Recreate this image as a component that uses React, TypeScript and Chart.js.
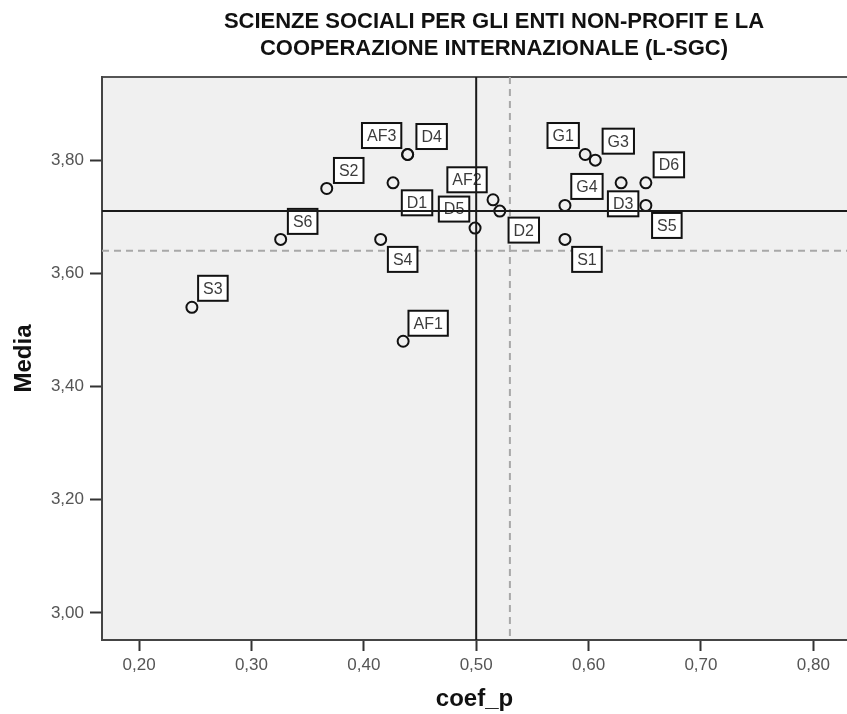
import React, { useEffect, useRef } from "react";
import { Chart, registerables } from "chart.js";

Chart.register(...registerables);

// ---- data ----
const pointLabels = ["S3", "S6", "S2", "D1", "S4", "AF1", "AF3", "D4", "AF2", "D2", "D5", "G1", "G3", "G4", "D3", "D6", "S5", "S1"];
const coefP = [0.247, 0.326, 0.367, 0.426, 0.415, 0.435, 0.439, 0.439, 0.515, 0.521, 0.499, 0.597, 0.606, 0.579, 0.629, 0.651, 0.651, 0.579];
const media = [3.54, 3.66, 3.75, 3.76, 3.66, 3.48, 3.81, 3.81, 3.73, 3.71, 3.68, 3.81, 3.80, 3.72, 3.76, 3.76, 3.72, 3.66];

const xTicks = [0.2, 0.3, 0.4, 0.5, 0.6, 0.7, 0.8];
const yTicks = [3.0, 3.2, 3.4, 3.6, 3.8];

const refSolidX = 0.5;
const refSolidY = 3.71;
const refDashedX = 0.53;
const refDashedY = 3.64;

const titleLines = ["SCIENZE SOCIALI PER GLI ENTI NON-PROFIT E LA", "COOPERAZIONE INTERNAZIONALE (L-SGC)"];
const xTitle = "coef_p";
const yTitle = "Media";

// ---- label placement (offset of label box centre from its point, px) ----
const labelOffsets: [number, number][] = [
  [21, -19], [22, -18], [22, -18], [24, 20], [22, 20], [25, -18], [-26, -19], [24, -18], [-26, -20],
  [24, 19], [-21, -19], [-22, -19], [23, -19], [22, -19], [2, 21], [23, -18], [21, 20], [22, 20],
];

const FONT = '"Liberation Sans", Arial, Helvetica, sans-serif';
const fmt = (v: number) => v.toFixed(2).replace(".", ",");

const framePlugin = {
  id: "frame",
  beforeDraw(chart: any) {
    const { ctx, chartArea } = chart;
    const { left, top, right, bottom } = chartArea;
    ctx.save();
    ctx.fillStyle = "#f0f0f0";
    ctx.fillRect(left, top, right - left, bottom - top);
    ctx.strokeStyle = "#555";
    ctx.lineWidth = 2;
    ctx.beginPath();
    ctx.moveTo(left, top);
    ctx.lineTo(right, top);
    ctx.stroke();
    // title
    ctx.fillStyle = "#111";
    ctx.font = `bold 22px ${FONT}`;
    ctx.textAlign = "center";
    ctx.textBaseline = "middle";
    ctx.fillText(titleLines[0], 494, 22);
    ctx.fillText(titleLines[1], 494, 49);
    ctx.restore();
  },
  beforeDatasetsDraw(chart: any) {
    const { ctx, chartArea, scales } = chart;
    const { left, top, right, bottom } = chartArea;
    const x = scales.x.getPixelForValue(refDashedX);
    const y = scales.y.getPixelForValue(refDashedY);
    ctx.save();
    ctx.strokeStyle = "#a8a8a8";
    ctx.lineWidth = 2;
    ctx.setLineDash([7, 5]);
    ctx.beginPath();
    ctx.moveTo(x, top);
    ctx.lineTo(x, bottom);
    ctx.moveTo(left, y);
    ctx.lineTo(right, y);
    ctx.stroke();
    ctx.restore();
  },
  afterDatasetsDraw(chart: any) {
    const { ctx, chartArea, scales } = chart;
    const { left, top, right, bottom } = chartArea;
    ctx.save();
    ctx.font = `16px ${FONT}`;
    ctx.textAlign = "center";
    ctx.textBaseline = "middle";
    pointLabels.forEach((lab, i) => {
      const px = scales.x.getPixelForValue(coefP[i]);
      const py = scales.y.getPixelForValue(media[i]);
      const [dx, dy] = labelOffsets[i];
      const cx = px + dx;
      const cy = py + dy;
      const w = ctx.measureText(lab).width + 10;
      const h = 25;
      ctx.fillStyle = "#ffffff";
      ctx.fillRect(cx - w / 2, cy - h / 2, w, h);
      ctx.strokeStyle = "#111";
      ctx.lineWidth = 2;
      ctx.strokeRect(cx - w / 2, cy - h / 2, w, h);
      ctx.fillStyle = "#3c3c3c";
      ctx.fillText(lab, cx, cy + 1);
    });
    const x = scales.x.getPixelForValue(refSolidX);
    const y = scales.y.getPixelForValue(refSolidY);
    ctx.strokeStyle = "#1a1a1a";
    ctx.lineWidth = 2;
    ctx.beginPath();
    ctx.moveTo(x, top);
    ctx.lineTo(x, bottom);
    ctx.moveTo(left, y);
    ctx.lineTo(right, y);
    ctx.stroke();
    ctx.restore();
  },
};

export default function App() {
  const ref = useRef<HTMLCanvasElement | null>(null);

  useEffect(() => {
    if (!ref.current) return;
    const chart = new Chart(ref.current, {
      type: "scatter",
      data: {
        datasets: [
          {
            data: coefP.map((x, i) => ({ x, y: media[i] })),
            pointStyle: "circle",
            pointRadius: 5.5,
            pointHoverRadius: 5.5,
            borderWidth: 2,
            borderColor: "#111",
            backgroundColor: "rgba(0,0,0,0)",
          },
        ],
      },
      options: {
        responsive: false,
        animation: false,
        devicePixelRatio: 1,
        layout: { autoPadding: false, padding: { top: 77, left: 0, right: 0, bottom: 0 } },
        plugins: {
          legend: { display: false },
          tooltip: { enabled: false },
          title: { display: false },
        },
        scales: {
          x: {
            type: "linear",
            min: 0.167,
            max: 0.83,
            afterFit: (s: any) => { s.height = 74; s.paddingLeft = 0; s.paddingRight = 0; },
            afterBuildTicks: (s: any) => { s.ticks = xTicks.map((v) => ({ value: v })); },
            ticks: {
              callback: (v: any) => fmt(Number(v)),
              font: { family: FONT, size: 17 },
              color: "#555",
              padding: 4,
              maxRotation: 0,
            },
            grid: { drawOnChartArea: false, drawTicks: true, tickLength: 11, tickWidth: 2, tickColor: "#333" },
            border: { display: true, color: "#444", width: 2 },
            title: {
              display: true,
              text: xTitle,
              font: { family: FONT, size: 24, weight: "bold" },
              color: "#111",
              padding: { top: 0, bottom: 0 },
            },
          },
          y: {
            type: "linear",
            min: 2.952,
            max: 3.947,
            afterFit: (s: any) => { s.width = 102; s.paddingTop = 0; s.paddingBottom = 0; },
            afterBuildTicks: (s: any) => { s.ticks = yTicks.map((v) => ({ value: v })); },
            ticks: {
              callback: (v: any) => fmt(Number(v)),
              font: { family: FONT, size: 17 },
              color: "#555",
              padding: 6,
            },
            grid: { drawOnChartArea: false, drawTicks: true, tickLength: 12, tickWidth: 2, tickColor: "#333" },
            border: { display: true, color: "#444", width: 2 },
            title: {
              display: true,
              text: yTitle,
              font: { family: FONT, size: 24, weight: "bold" },
              color: "#111",
              padding: { top: 10, bottom: 0 },
            },
          },
        },
      },
      plugins: [framePlugin],
    });
    return () => chart.destroy();
  }, []);

  return (
    <div style={{ position: "absolute", left: 0, top: 0, width: 847, height: 714, background: "#fff" }}>
      <canvas ref={ref} width={847} height={714} style={{ display: "block" }} />
    </div>
  );
}
